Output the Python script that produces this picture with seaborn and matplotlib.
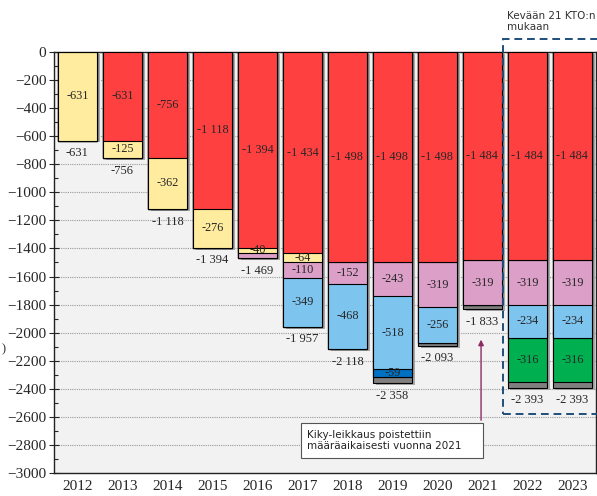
import numpy as np
import matplotlib
matplotlib.use("Agg")
import matplotlib.pyplot as plt
from matplotlib.patches import Rectangle
from matplotlib.ticker import MultipleLocator
import seaborn as sns

# data (milj. €), layers from the top of each bar downwards
years = ['2012', '2013', '2014', '2015', '2016', '2017',
         '2018', '2019', '2020', '2021', '2022', '2023']
red = [0, -631, -756, -1118, -1394, -1434, -1498, -1498, -1498, -1484, -1484, -1484]
yellow = [-631, -125, -362, -276, -40, -64, 0, 0, 0, 0, 0, 0]
pink = [0, 0, 0, 0, -35, -110, -152, -243, -319, -319, -319, -319]
light_blue = [0, 0, 0, 0, 0, -349, -468, -518, -256, 0, -234, -234]
dark_blue = [0, 0, 0, 0, 0, 0, 0, -59, 0, 0, 0, 0]
green = [0, 0, 0, 0, 0, 0, 0, 0, 0, 0, -316, -316]
gray = [0, 0, 0, 0, 0, 0, 0, -40, -20, -30, -40, -40]

layers = [red, yellow, pink, light_blue, dark_blue, green, gray]
colors = ['#ff4040', '#ffec9e', '#dca0c8', '#7dc4ee', '#0070c0', '#00b050', '#7f7f7f']
labelled = [True, True, True, True, True, True, False]

serif = 'Liberation Serif'

def fmt(v):
    return '{:,}'.format(int(v)).replace(',', ' ')

sns.set_style('white')
fig = plt.figure(figsize=(5.97, 4.96), dpi=100)
ax = fig.add_axes([0.0905, 0.0464, 0.9075, 0.8488])
ax.set_facecolor('#f2f2f2')

vals = np.array(layers, dtype=float)
cum = np.cumsum(vals, axis=0)
totals = cum[-1]

# shadow behind the bars
sns.barplot(x=years, y=totals, color='#a9a9a9', saturation=1, width=0.867,
            linewidth=0, ax=ax, zorder=2)
for p in ax.patches:
    p.set_x(p.get_x() + 0.06)
    p.set_y(p.get_y() - 14)

# stacked bars: draw deepest cumulative first, shallower on top
for k in range(len(layers) - 1, -1, -1):
    sns.barplot(x=years, y=cum[k], color=colors[k], saturation=1, width=0.867,
                edgecolor='black', linewidth=0.8, ax=ax, zorder=3)

# segment labels
for k in range(len(layers)):
    if not labelled[k]:
        continue
    top = cum[k] - vals[k]
    for i, v in enumerate(vals[k]):
        if abs(v) >= 40:
            ax.text(i, top[i] + v / 2, fmt(v), ha='center', va='center',
                    fontsize=8.8, family=serif, zorder=5)

# totals under each bar
for i, t in enumerate(totals):
    ax.text(i, t - 90, fmt(t), ha='center', va='center', fontsize=9,
            family=serif, zorder=5)

ax.set_xlim(-0.52, 11.52)
ax.set_ylim(-3000, 0)
ax.yaxis.set_major_locator(MultipleLocator(200))
ax.yaxis.set_minor_locator(MultipleLocator(100))
ax.grid(axis='y', which='major', color='#9a9a9a', linestyle=(0, (1, 1)), linewidth=0.8, zorder=1)
ax.grid(axis='x', visible=False)
ax.set_axisbelow(True)
ax.tick_params(axis='y', which='major', direction='inout', length=7, width=0.8,
               labelsize=11, pad=2, left=True)
ax.tick_params(axis='y', which='minor', direction='in', length=3, width=0.8, left=True)
ax.tick_params(axis='x', length=0, labelsize=11, pad=5)
for lab in ax.get_xticklabels() + ax.get_yticklabels():
    lab.set_family(serif)
for s in ax.spines.values():
    s.set_color('#222222')
    s.set_linewidth(1.0)
ax.set_xlabel('')
ax.set_ylabel('')

# dashed box for the forecast years
box = Rectangle((9.45, -2580), 2.4, 2673, fill=False, edgecolor='#1f4e79',
                linestyle=(0, (4, 2.5)), linewidth=1.4, clip_on=False, zorder=6)
ax.add_patch(box)
fig.text(0.85, 0.978, 'Kevään 21 KTO:n\nmukaan', ha='left', va='top',
         fontsize=7.5, color='#333333', family='DejaVu Sans', linespacing=1.15)

# annotation box with arrow
note = Rectangle((4.97, -2894), 4.04, 250, facecolor='white', edgecolor='#555555',
                 linewidth=0.8, zorder=6)
ax.add_patch(note)
ax.text(5.1, -2769, 'Kiky-leikkaus poistettiin\nmääräaikaisesti vuonna 2021',
        ha='left', va='center', fontsize=7.5, color='#222222', family='DejaVu Sans',
        linespacing=1.2, zorder=7)
ax.annotate('', xy=(8.97, -2030), xytext=(8.97, -2644),
            arrowprops=dict(arrowstyle='-|>', color='#8e2a63', lw=1.0,
                            mutation_scale=8), zorder=7)

fig.text(0.002, 0.295, ')', fontsize=9, family=serif, va='center')

fig.savefig('out.png', dpi=100)
